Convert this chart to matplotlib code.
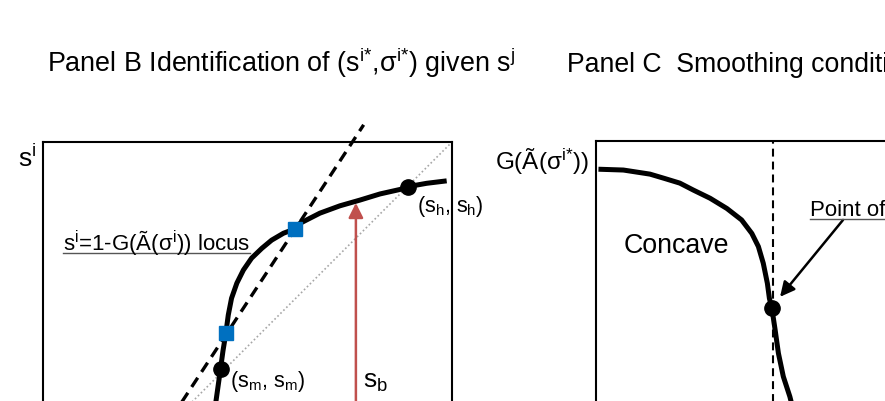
import matplotlib
matplotlib.use("Agg")
import matplotlib.pyplot as plt
from matplotlib.lines import Line2D

plt.rcParams['font.family'] = ['Liberation Sans', 'DejaVu Sans']
plt.rcParams['mathtext.default'] = 'regular'

# Panel B: s^i = 1 - G(A(sigma^i)) locus (axes units 0..1)
locus_x = [0.419, 0.423, 0.434, 0.440, 0.447, 0.453, 0.461, 0.474, 0.490,
           0.510, 0.535, 0.559, 0.588, 0.615, 0.628, 0.677, 0.726, 0.775,
           0.824, 0.873, 0.893, 0.938, 0.987]
locus_y = [0.340, 0.367, 0.445, 0.489, 0.532, 0.577, 0.618, 0.655, 0.687,
           0.716, 0.740, 0.760, 0.777, 0.787, 0.801, 0.826, 0.844, 0.858,
           0.873, 0.884, 0.891, 0.899, 0.905]
tangent_x = [0.330, 0.784]
tangent_y = [0.350, 1.042]
touch_x = [0.447, 0.615]
touch_y = [0.532, 0.787]
fixed_x = [0.434, 0.893]
fixed_y = [0.445, 0.891]
sb_x = 0.765
sb_top = 0.851

# Panel C: G(A(sigma^i*))
g_x = [0.006, 0.067, 0.132, 0.169, 0.205, 0.238, 0.279, 0.320, 0.356,
       0.381, 0.397, 0.409, 0.419, 0.424, 0.430, 0.438, 0.446, 0.458,
       0.474, 0.479]
g_y = [0.931, 0.929, 0.919, 0.908, 0.897, 0.880, 0.860, 0.835, 0.807,
       0.774, 0.742, 0.701, 0.652, 0.615, 0.591, 0.538, 0.481, 0.424,
       0.375, 0.355]
inflect_x = 0.430
inflect_y = 0.591
inflect_line = 0.433

W, H = 885, 401
fig = plt.figure(figsize=(W / 100, H / 100), dpi=100)

def px(x, y):
  return x / W, 1 - y / H

def label(x, y, s, size=14, **kw):
  return fig.text(*px(x, y), s, fontsize=size, va='baseline', ha='left', **kw)

def underline(t, y, color='#555555'):
  r = fig.canvas.get_renderer()
  bb = t.get_window_extent(renderer=r)
  fig.add_artist(Line2D([bb.x0 / W, bb.x1 / W], [1 - y / H, 1 - y / H],
                        transform=fig.transFigure, color=color, lw=1.0))

def box_axes(left, top):
  ax = fig.add_axes([left / W, (H - top - 409) / H, 409 / W, 409 / H])
  ax.set_xlim(0, 1)
  ax.set_ylim(0, 1)
  ax.set_xticks([])
  ax.set_yticks([])
  for sp in ax.spines.values():
    sp.set_linewidth(1.5)
  return ax

# ---- Panel B
axb = box_axes(43, 142)
axb.plot([0, 1], [0, 1], color='#a6a6a6', lw=1.2, ls=(0, (1, 1.5)))
axb.plot(tangent_x, tangent_y, color='k', lw=2.4, ls=(0, (3.3, 2.1)),
         clip_on=False)
axb.plot(locus_x, locus_y, color='k', lw=3.6, solid_joinstyle='round',
         solid_capstyle='butt')
axb.plot(fixed_x, fixed_y, 'o', color='k', ms=11)
axb.plot(touch_x, touch_y, 's', color='#0070c0', ms=10.5, mec='#0070c0')
axb.annotate('', xy=(sb_x, sb_top), xytext=(sb_x, 0),
             arrowprops=dict(arrowstyle='-|>', color='#c0504d', lw=1.8,
                             mutation_scale=22, shrinkA=0, shrinkB=0))

label(47, 72, 'Panel B Identification of (s$^{i{*}}$,σ$^{i{*}}$) given s$^j$', 19.4)
label(18, 167, 's$^i$', 19)
label(417, 212, '(s$_h$, s$_h$)', 15.5)
loc = label(63, 251, 's$^i$=1-G(Ã(σ$^i$)) locus', 16)
label(230, 387, '(s$_m$, s$_m$)', 15.5)
label(363, 388, 's$_b$', 19)

# ---- Panel C
axc = box_axes(596, 141)
axc.axvline(inflect_line, color='k', lw=1.5, ls=(0, (3.8, 2.4)))
axc.plot(g_x, g_y, color='k', lw=3.6, solid_joinstyle='round',
         solid_capstyle='butt')
axc.plot([inflect_x], [inflect_y], 'o', color='k', ms=11)
axc.annotate('', xy=(0.450, 0.619), xytext=(0.604, 0.807),
             arrowprops=dict(arrowstyle='-|>', color='k', lw=1.8,
                             mutation_scale=22, shrinkA=0, shrinkB=0))

# the reference is cropped through this title, so it runs off the right edge
label(567, 72, 'Panel C  Smoothing condition', 19.2)
label(495, 170, 'G(Ã(σ$^{i{*}}$))', 17.5)
label(624, 253, 'Concave', 19.3)
pt = label(810, 216, 'Point of', 16)

underline(loc, 253)
underline(pt, 219)

fig.savefig('out.png', dpi=100)
